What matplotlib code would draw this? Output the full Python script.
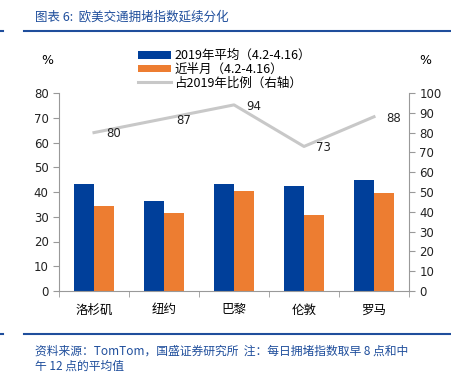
import numpy as np
from matplotlib import pyplot as plt

plt.rcParams['font.family'] = ['DejaVu Sans', 'Noto Sans CJK SC']

cities = ['洛杉矶', '纽约', '巴黎', '伦敦', '罗马']
avg_2019 = [43.1, 36.5, 43.1, 42.4, 44.8]
recent = [34.3, 31.4, 40.5, 30.7, 39.5]
ratio = [80, 87, 94, 73, 88]

blue = '#003f9a'
orange = '#ed7d31'
gray = '#c8c8c8'
title_blue = '#1f4e9c'
cjk = ['Noto Sans CJK SC', 'DejaVu Sans']

W, H = 451, 372
fig = plt.figure(figsize=(W / 100, H / 100), dpi=100)
ax = fig.add_axes([59 / W, 1 - 291 / H, 350 / W, 198 / H])
ax2 = ax.twinx()

x = np.arange(len(cities))
bw = 0.286
ax.bar(x - bw / 2, avg_2019, bw, color=blue, label='2019年平均（4.2-4.16）', zorder=2)
ax.bar(x + bw / 2, recent, bw, color=orange, label='近半月（4.2-4.16）', zorder=2)
ax2.plot(x, ratio, color=gray, lw=2.2, label='占2019年比例（右轴）')
for xi, r in zip(x, ratio):
    ax2.annotate(str(r), (xi, r), xytext=(8.5, -1), textcoords='offset points',
                 ha='left', va='center', fontsize=8.5, color='#222222')

ax.set_xlim(-0.5, len(cities) - 0.5)
ax.set_ylim(0, 80)
ax.set_yticks(range(0, 81, 10))
ax2.set_ylim(0, 100)
ax2.set_yticks(range(0, 101, 10))

ax.set_xticks(x)
ax.set_xticklabels(cities, family=cjk, fontsize=9)
ax.set_xticks(np.arange(-0.5, len(cities)), minor=True)
ax.tick_params(axis='x', which='major', length=0, pad=9)
ax.tick_params(axis='x', which='minor', length=4, color='#999999')

for a in (ax, ax2):
    for s in a.spines.values():
        s.set_visible(False)
    a.tick_params(axis='y', labelsize=8.5, length=4, color='#999999', labelcolor='#222222')
ax.spines['left'].set_visible(True)
ax.spines['bottom'].set_visible(True)
ax2.spines['right'].set_visible(True)
for s in (ax.spines['left'], ax.spines['bottom'], ax2.spines['right']):
    s.set_color('#999999')

fig.text(47 / W, 1 - 61 / H, '%', ha='center', va='center', fontsize=9)
fig.text(425 / W, 1 - 61 / H, '%', ha='center', va='center', fontsize=9)

h1, l1 = ax.get_legend_handles_labels()
h2, l2 = ax2.get_legend_handles_labels()
leg = fig.legend(h1 + h2, l1 + l2, loc='upper left', bbox_to_anchor=(132 / W, 1 - 43 / H),
                 frameon=False, prop={'family': cjk, 'size': 9}, handlelength=2.6,
                 handleheight=0.6, labelspacing=0.05, handletextpad=0.3, borderpad=0)

# header / footer
fig.text(35 / W, 1 - 17 / H, '图表 6:  欧美交通拥堵指数延续分化', family=cjk, fontsize=9,
         color=title_blue, style='italic', va='center')
fig.add_artist(plt.Line2D([24 / W, 1], [1 - 31 / H] * 2, color=title_blue, lw=1.5))
fig.add_artist(plt.Line2D([0, 3 / W], [1 - 31 / H] * 2, color=title_blue, lw=1.5))
fig.add_artist(plt.Line2D([24 / W, 1], [1 - 334 / H] * 2, color=title_blue, lw=1.5))
fig.add_artist(plt.Line2D([0, 3 / W], [1 - 334 / H] * 2, color=title_blue, lw=1.5))
fig.text(35 / W, 1 - 345 / H, '资料来源：TomTom，国盛证券研究所  注：每日拥堵指数取早 8 点和中\n午 12 点的平均值',
         family=cjk, fontsize=8.5, color=title_blue, style='italic', va='top', linespacing=1.2)

fig.savefig('out.png', dpi=100)
